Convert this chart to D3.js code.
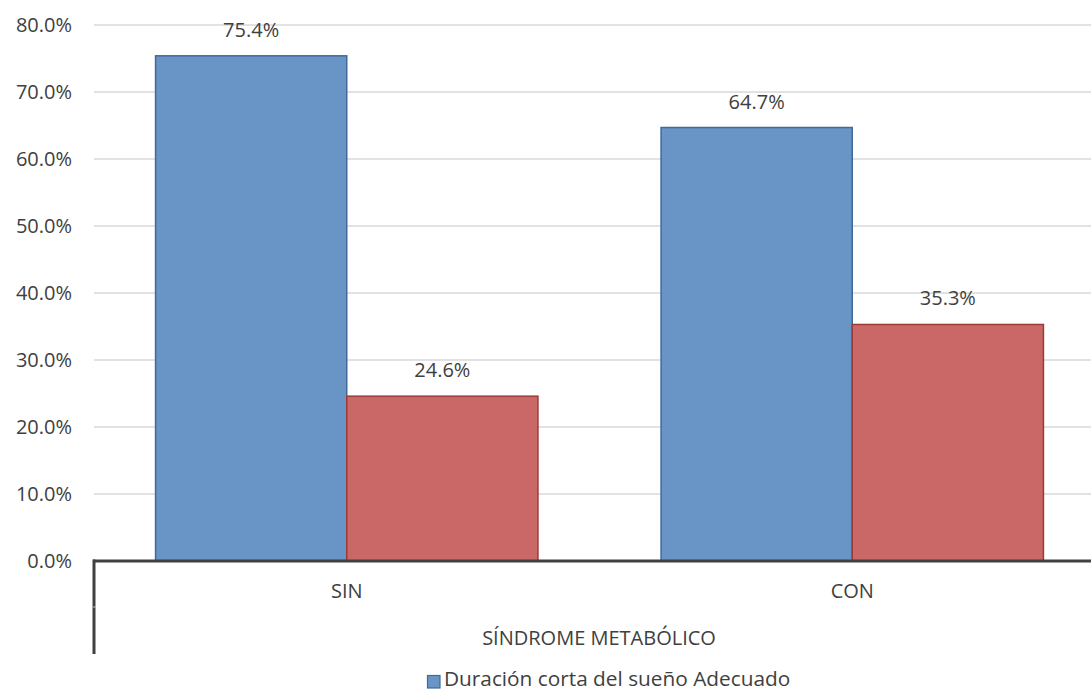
<!DOCTYPE html>
<html><head><meta charset="utf-8">
<script src="https://cdn.jsdelivr.net/npm/d3@7"></script>
<style>body{margin:0;background:#fff;}svg{display:block;font-family:"Open Sans",sans-serif;}</style>
</head><body>
<svg id="c" width="1091" height="691"></svg>
<script>
const categories = ["SIN", "CON"];
const seriesA = [75.4, 64.7];
const seriesB = [24.6, 35.3];
const yTicks = [0, 10, 20, 30, 40, 50, 60, 70, 80];
const axisTitle = "SÍNDROME METABÓLICO";
const legendLabels = ["Duración corta del sueño Adecuado"];

const svg = d3.select("#c");
const pLeft = 94, pRight = 1105, pTop = 25, pBottom = 561;
const fs = 20;
const x = d3.scaleBand().domain(categories).range([pLeft, pRight]);
const y = d3.scaleLinear().domain([0, 80]).range([pBottom, pTop]);
const sub = d3.scaleBand().domain([0, 1]).range([0, x.bandwidth()]).paddingOuter(0.322).paddingInner(0);
const fills = ["#6894C6", "#C96866"];
const strokes = ["#41699C", "#9A3B39"];

// gridlines
svg.append("g").selectAll("line").data(yTicks.filter(d => d > 0)).join("line")
  .attr("x1", pLeft).attr("x2", 1091).attr("y1", d => y(d)).attr("y2", d => y(d))
  .attr("stroke", "#D9D9D9").attr("stroke-width", 1.3);

// y tick labels
svg.append("g").selectAll("text").data(yTicks).join("text")
  .attr("x", 72).attr("y", d => y(d) + 7).attr("text-anchor", "end")
  .attr("font-size", fs).attr("fill", "#404040").text(d => d.toFixed(1) + "%");

const data = [];
categories.forEach((c, i) => {
  data.push({c, s: 0, v: seriesA[i]});
  data.push({c, s: 1, v: seriesB[i]});
});

svg.append("g").selectAll("rect").data(data).join("rect")
  .attr("x", d => x(d.c) + sub(d.s))
  .attr("y", d => y(d.v))
  .attr("width", sub.bandwidth())
  .attr("height", d => y(0) - y(d.v))
  .attr("fill", d => fills[d.s]).attr("stroke", d => strokes[d.s]).attr("stroke-width", 1.5);

svg.append("g").selectAll("text").data(data).join("text")
  .attr("x", d => x(d.c) + sub(d.s) + sub.bandwidth() / 2)
  .attr("y", d => y(d.v) - 19)
  .attr("text-anchor", "middle").attr("font-size", fs).attr("fill", "#404040")
  .text(d => d.v.toFixed(1) + "%");

// axis lines
svg.append("line").attr("x1", 93).attr("x2", 1091).attr("y1", pBottom).attr("y2", pBottom)
  .attr("stroke", "#404040").attr("stroke-width", 3);
svg.append("line").attr("x1", 94).attr("x2", 94).attr("y1", pBottom - 1.5).attr("y2", 654)
  .attr("stroke", "#404040").attr("stroke-width", 3);
svg.append("line").attr("x1", 93).attr("x2", 96).attr("y1", 607).attr("y2", 607)
  .attr("stroke", "#BFBFBF").attr("stroke-width", 1);

// category labels
svg.append("g").selectAll("text").data(categories).join("text")
  .attr("x", d => x(d) + x.bandwidth() / 2).attr("y", 598)
  .attr("text-anchor", "middle").attr("font-size", fs).attr("fill", "#404040").text(d => d);

svg.append("text").attr("x", 599).attr("y", 645).attr("text-anchor", "middle")
  .attr("font-size", fs).attr("fill", "#404040").text(axisTitle);

// legend
const lg = svg.append("g");
lg.selectAll("rect").data(legendLabels).join("rect")
  .attr("x", 427.5).attr("y", 675.5).attr("width", 12.5).attr("height", 12.5)
  .attr("fill", fills[0]).attr("stroke", strokes[0]).attr("stroke-width", 1.2);
lg.selectAll("text").data(legendLabels).join("text")
  .attr("x", 444).attr("y", 686).attr("font-size", 20.8).attr("fill", "#404040").text(d => d);
</script>
</body></html>
